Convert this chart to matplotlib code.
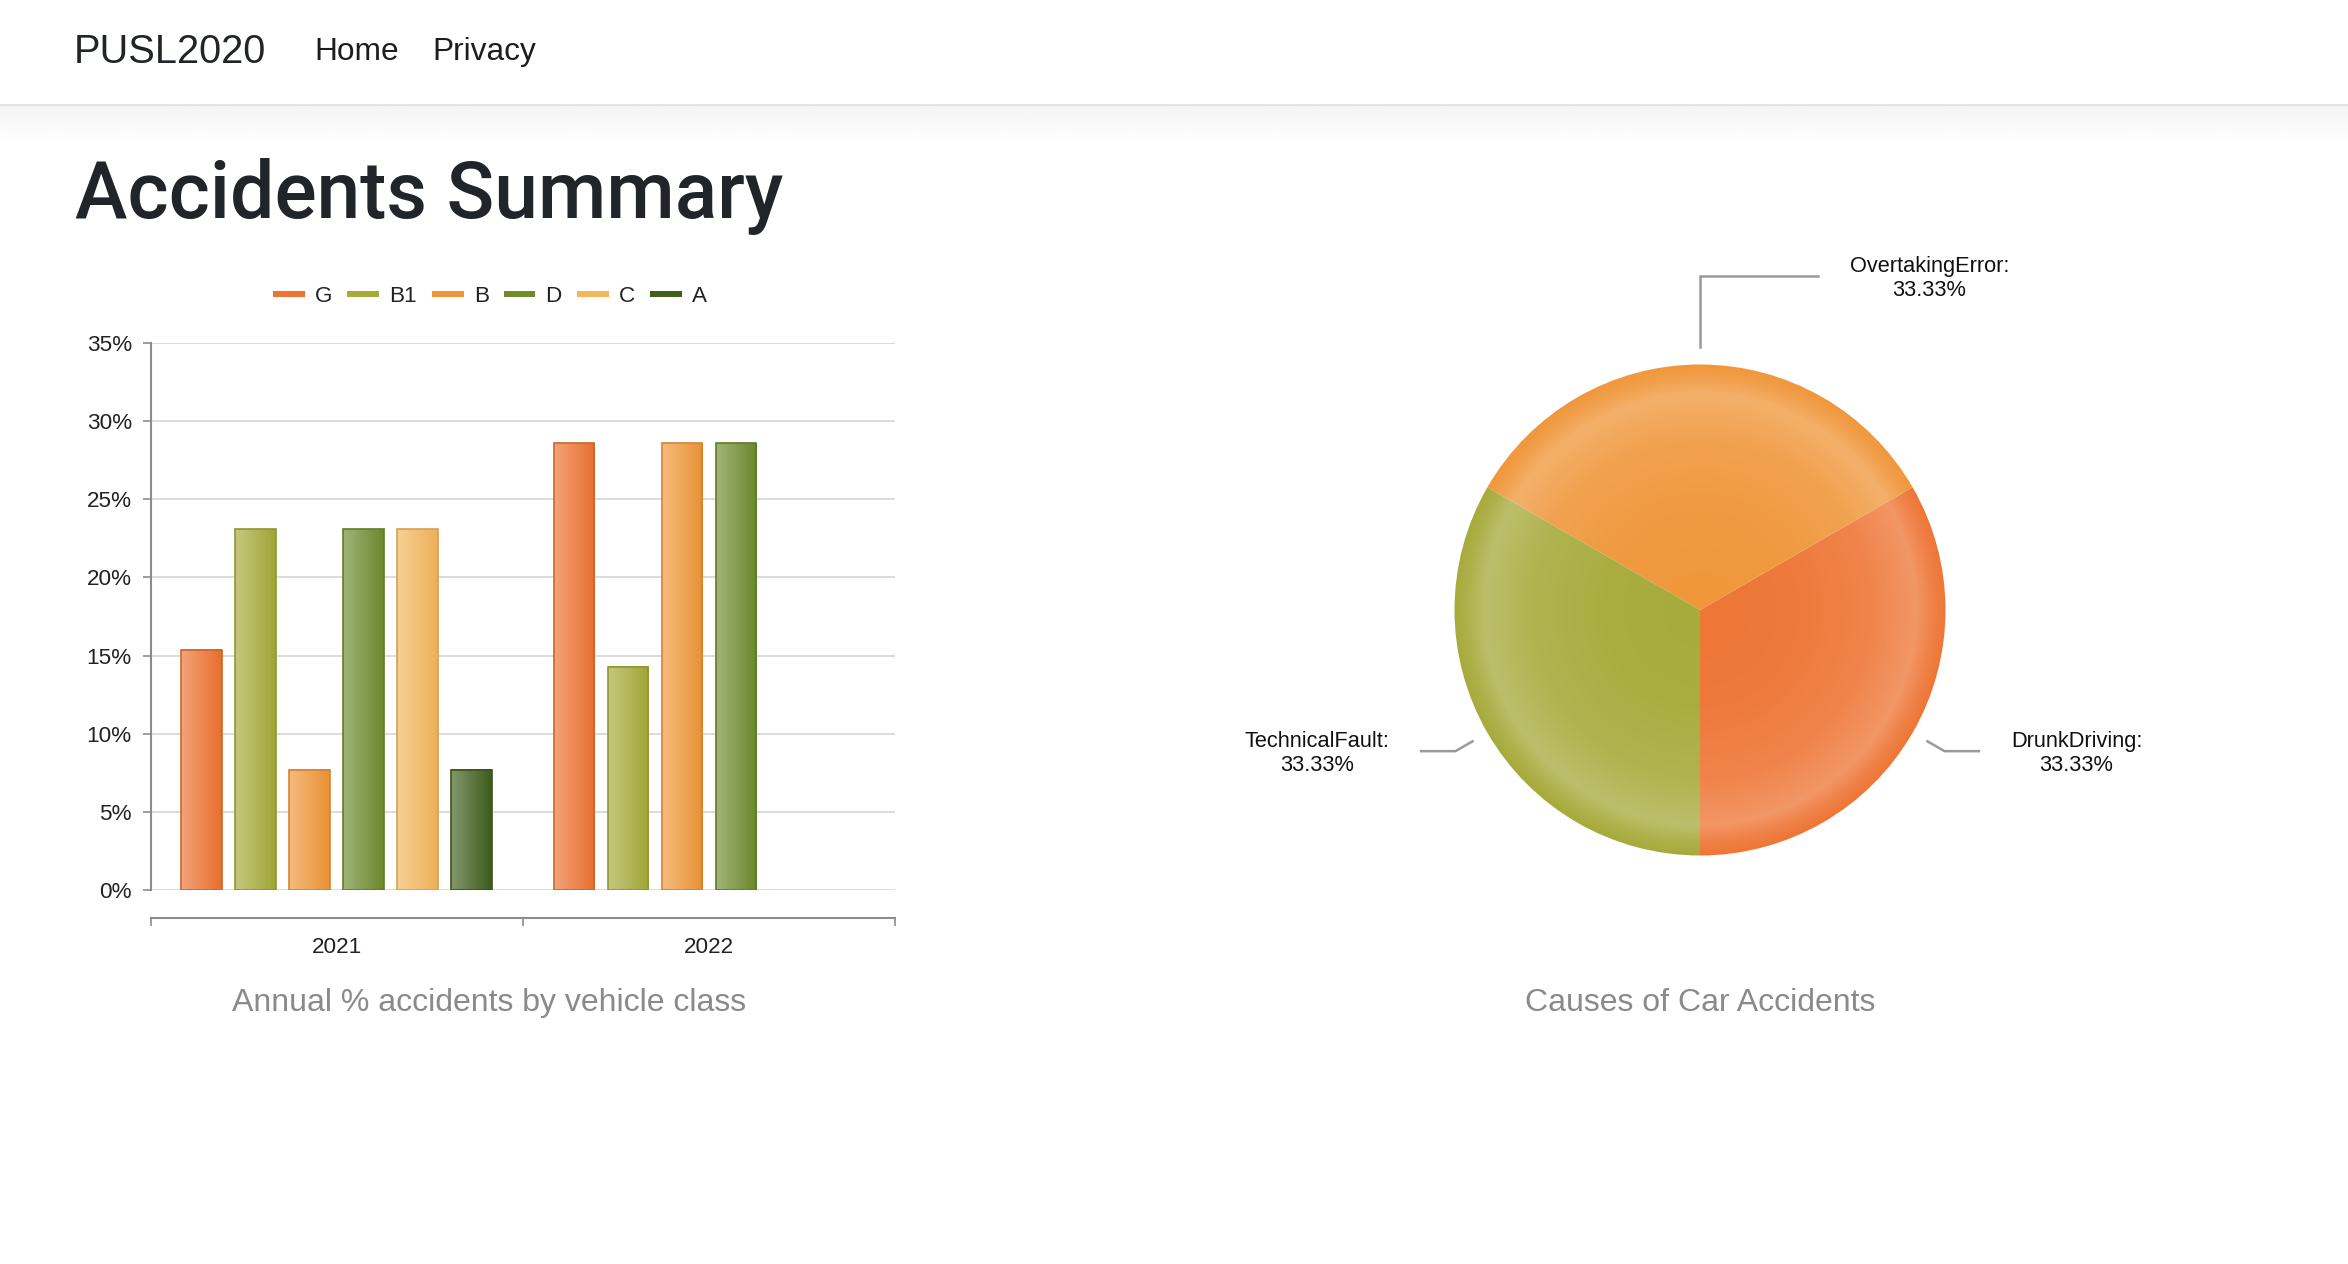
import numpy as np
import matplotlib.pyplot as plt
from matplotlib.lines import Line2D
from matplotlib.patches import Circle
from matplotlib.colors import to_rgb

W, H = 2348, 1264

# bar chart data (% of accidents per vehicle class)
years = ['2021', '2022']
vehicle_classes = ['G', 'B1', 'B', 'D', 'C', 'A']
share_2021 = [15.38, 23.08, 7.69, 23.08, 23.08, 7.69]
share_2022 = [28.57, 14.29, 28.57, 28.57, 0, 0]
class_colors = ['#EE7231', '#A5AA38', '#F09637', '#6E8C2E', '#F4B65B', '#405F1C']

# pie data
causes = ['DrunkDriving', 'OvertakingError', 'TechnicalFault']
cause_counts = [1, 1, 1]
cause_colors = ['#EE7636', '#F0973B', '#A7AB3C']

plt.rcParams['font.family'] = ['Liberation Sans', 'DejaVu Sans']


def mix(c, other, t):
    c = np.array(to_rgb(c))
    return c * (1 - t) + np.array(other) * t


def box(left, top, right, bottom):
    # pixel box -> figure fraction
    return [left / W, 1 - bottom / H, (right - left) / W, (bottom - top) / H]


fig = plt.figure(figsize=(W / 100, H / 100), dpi=100)

# page background: navbar, heading, chart titles
bg = fig.add_axes([0, 0, 1, 1], zorder=-5)
shadow = np.linspace(0.955, 1.0, 60).reshape(-1, 1)
bg.imshow(shadow, cmap='gray', vmin=0, vmax=1, extent=[0, W, 145, 106], aspect='auto')
bg.axhline(105, color='#dfe2e6', lw=1.5)
bg.set_xlim(0, W)
bg.set_ylim(H, 0)
bg.axis('off')

bg.text(74, 63, 'PUSL2020', fontsize=28.6, color='#212529', va='baseline')
bg.text(314, 60, 'Home', fontsize=22.8, color='#1d1d1d', va='baseline')
bg.text(432, 60, 'Privacy', fontsize=22.8, color='#1d1d1d', va='baseline')
bg.text(75, 218, 'Accidents Summary', fontsize=56.6, fontweight=500, color='#212529',
        va='baseline', family=['Roboto', 'Liberation Sans'])

bg.text(489, 1003, 'Annual % accidents by vehicle class', ha='center', va='center',
        fontsize=23, color='#8a8a8a')
bg.text(1700, 1003, 'Causes of Car Accidents', ha='center', va='center',
        fontsize=23, color='#8a8a8a')

# ---- bar chart ----
ax = fig.add_axes(box(150.5, 343, 895, 890))
x_centers = np.arange(len(years))
slot = 0.145
bw = 0.109
for j, (cls, col) in enumerate(zip(vehicle_classes, class_colors)):
    vals = [share_2021[j], share_2022[j]]
    bars = ax.bar(x_centers + (j - 2.5) * slot, vals, bw, facecolor='none',
                  edgecolor=mix(col, (0, 0, 0), 0.12),
                  linewidth=[1.2 if v > 0 else 0 for v in vals], zorder=3)
    left = mix(col, (1, 1, 1), 0.35)
    right = mix(col, (0, 0, 0), 0.03)
    t = np.linspace(0, 1, 64)[:, None]
    grad = (left * (1 - t) + right * t)[None, :, :]
    for rect, v in zip(bars, vals):
        if v <= 0:
            continue
        x0 = rect.get_x()
        ax.imshow(grad, extent=[x0, x0 + rect.get_width(), 0, v], aspect='auto',
                  zorder=2, clip_path=rect, interpolation='bilinear')

ax.set_xlim(-0.5, 1.5)
ax.set_ylim(0, 35)
ax.set_yticks(range(0, 36, 5))
ax.set_yticklabels([f'{t}%' for t in range(0, 36, 5)])
ax.yaxis.grid(True, color='#dcdcdc', lw=1.4)
ax.set_axisbelow(True)
for s in ['top', 'right']:
    ax.spines[s].set_visible(False)
ax.spines['left'].set_color('#8c8c8c')
ax.spines['left'].set_linewidth(1.5)
ax.spines['bottom'].set_color('#8c8c8c')
ax.spines['bottom'].set_linewidth(1.5)
ax.spines['bottom'].set_position(('outward', 20))
ax.set_xticks([-0.5, 0.5, 1.5])
ax.set_xticklabels([])
ax.set_xticks(x_centers, minor=True)
ax.set_xticklabels(years, minor=True)
ax.tick_params(axis='x', which='major', length=6, width=1.2, color='#8c8c8c')
ax.tick_params(axis='x', which='minor', length=0, pad=14, labelsize=16.2, labelcolor='#222222')
ax.tick_params(axis='y', length=6, width=1.2, color='#8c8c8c', pad=7.5, labelsize=16.2,
               labelcolor='#222222')

handles = [Line2D([], [], color=c, lw=4.3, solid_capstyle='butt') for c in class_colors]
fig.legend(handles, vehicle_classes, loc='center', bbox_to_anchor=(490 / W, 1 - 296 / H),
           ncol=6, frameon=False, fontsize=16.2, handlelength=1.4, handletextpad=0.45,
           columnspacing=0.68, labelcolor='#222222')

# ---- pie chart ----
R = 245.5
pax = fig.add_axes(box(1700 - R, 610 - R, 1700 + R, 610 + R))
wedges, _ = pax.pie(cause_counts, colors=cause_colors, startangle=-90, counterclock=True,
                    radius=1, wedgeprops=dict(lw=0))
pax.set_xlim(-1, 1)
pax.set_ylim(-1, 1)
pax.axis('off')

# soft radial highlight
yy, xx = np.mgrid[-1:1:600j, -1:1:600j]
rr = np.hypot(xx, yy)
overlay = np.ones((600, 600, 4))
overlay[..., 3] = np.interp(rr, [0, 0.4, 0.7, 0.88, 0.95, 1.0], [0, 0.03, 0.11, 0.24, 0.08, 0])
pax.imshow(overlay, extent=[-1, 1, -1, 1], zorder=5,
           clip_path=Circle((0, 0), 1, transform=pax.transData))
pax.set_xlim(-1, 1)
pax.set_ylim(-1, 1)

total = sum(cause_counts)
for w, name, cnt in zip(wedges, causes, cause_counts):
    ang = np.deg2rad((w.theta1 + w.theta2) / 2)
    c, s = np.cos(ang), np.sin(ang)
    if abs(c) < 0.1:
        pts = [(0, 1.07), (0, 1.36), (0.48, 1.36)]
        side = 1
    else:
        side = np.sign(c)
        p1 = (1.15 * c, 1.15 * s)
        pts = [(1.07 * c, 1.07 * s), p1, (p1[0] + side * 0.14, p1[1])]
    xs, ys = zip(*pts)
    pax.plot(xs, ys, color='#9a9a9a', lw=1.8, clip_on=False, solid_joinstyle='miter')
    pax.text(pts[-1][0] + side * 0.13, pts[-1][1] - 0.01, f'{name}:\n{cnt / total * 100:.2f}%',
             ha='left' if side > 0 else 'right', va='center', multialignment='center',
             fontsize=15.7, color='#111111', linespacing=1.2, clip_on=False)

fig.savefig('out.png', dpi=100)
